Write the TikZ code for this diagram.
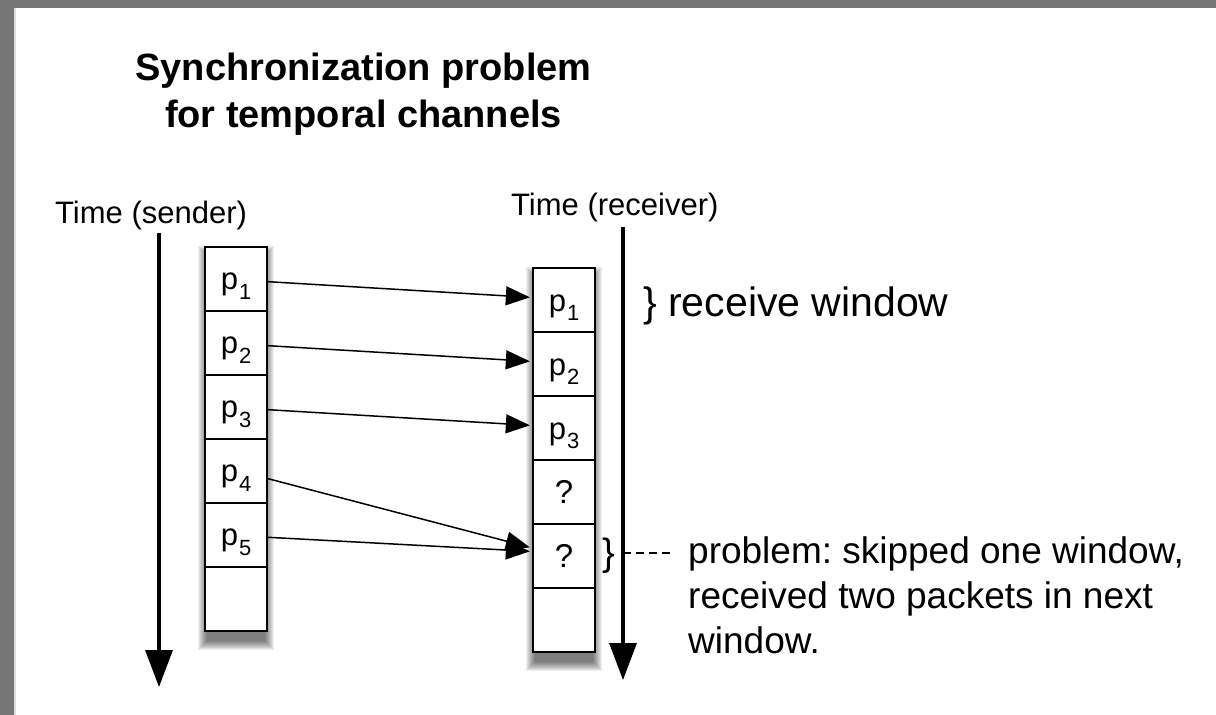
\documentclass[tikz,border=0pt]{standalone}
\usepackage{fontspec}
\setmainfont{Liberation Sans}
\usetikzlibrary{arrows.meta}
\definecolor{frame}{HTML}{777777}
\frenchspacing
\newcommand\pp[1]{p\hspace{1pt}\raisebox{-0.3em}{\fontsize{22}{22}\selectfont #1}}
\begin{document}
\begin{tikzpicture}[x=1pt,y=-1pt,
  cell/.style={draw, line width=1.8pt, fill=white, minimum width=62.5pt, minimum height=64pt, inner sep=0pt, font=\fontsize{31}{31}\selectfont},
  pcell/.style={cell, text height=26pt, text depth=4pt},
  qcell/.style={cell, font=\fontsize{33}{33}\selectfont},
  msg/.style={line width=1.5pt, -{Triangle[length=24pt,width=19pt]}},
  timeline/.style={line width=3.3pt, -{Triangle[length=37pt,width=27pt]}},
  lbl/.style={inner sep=0pt, anchor=base west, font=\fontsize{31}{31}\selectfont},
  softshadow/.style={fill=black, fill opacity=0.065},
]
\useasboundingbox (0,0) rectangle (1216,715);
\fill[frame] (0,0) rectangle (1216,715);
\fill[white] (14,8) rectangle (1216,715);
\fill[gray!25] (14,8) rectangle (15.5,715);

% drop shadows of the two stacks
\foreach \k in {1,...,10}{
  \fill[softshadow] (204.75-\k+3, 246.7+9-\k) rectangle (267.25+\k-3, 630.7+9+\k);
  \fill[softshadow] (532.75-\k+3, 268.3+9-\k) rectangle (595.25+\k-3, 652.3+9+\k);
}

% title (anchor at baseline of last line)
\node[font=\fontsize{38}{47}\selectfont\bfseries, align=center, anchor=base, inner sep=0pt] (title) at (363.5,127) {Synchronization problem\\for temporal channels};

% axis labels
\node[lbl] (ts) at (55,223) {Time (sender)};
\node[lbl] (tr) at (511,215) {Time (receiver)};

% time lines
\coordinate (sT) at (159,233);
\coordinate (sB) at (159,687);
\coordinate (rT) at (623,227);
\coordinate (rB) at (623,680);
\draw[timeline] (sT) -- (sB);
\draw[timeline] (rT) -- (rB);

% sender stack
\node[pcell] (s1) at (236,278.7) {\pp1};
\node[pcell] (s2) at (236,342.7) {\pp2};
\node[pcell] (s3) at (236,406.7) {\pp3};
\node[pcell] (s4) at (236,470.7) {\pp4};
\node[pcell] (s5) at (236,534.7) {\pp5};
\node[cell] (s6) at (236,598.7) {};

% receiver stack
\node[pcell] (r1) at (564,300.3) {\pp1};
\node[pcell] (r2) at (564,364.3) {\pp2};
\node[pcell] (r3) at (564,428.3) {\pp3};
\node[qcell] (r4) at (564,492.3) {?};
\node[qcell] (r5) at (564,556.3) {?};
\node[cell] (r6) at (564,620.3) {};

% messages
\draw[msg] ([yshift=-3pt]s1.east) -- ([xshift=-2pt,yshift=3pt]r1.west);
\draw[msg] ([yshift=-3pt]s2.east) -- ([xshift=-2pt,yshift=3pt]r2.west);
\draw[msg] ([yshift=-3pt]s3.east) -- ([xshift=-2pt,yshift=3pt]r3.west);
\draw[msg] ([yshift=-8pt]s4.east) -- ([xshift=-2pt,yshift=9pt]r5.west);
\draw[msg] ([yshift=-2.6pt]s5.east) -- ([xshift=-2pt,yshift=5pt]r5.west);

% annotations
\node[lbl, font=\fontsize{41}{41}\selectfont] (rw) at (643,316.7) {\} receive window};
\node[lbl, font=\fontsize{38}{38}\selectfont] (bp) at (602,565) {\}};
\node[lbl, font=\fontsize{37}{45}\selectfont, align=left] (prob) at (688,653.3) {problem: skipped one window,\\received two packets in next\\window.};
\coordinate (dA) at (623,553);
\coordinate (dB) at (674,553);
\draw[line width=1.5pt, dash pattern=on 8pt off 5pt] (dA) -- (dB);
\end{tikzpicture}
\end{document}
